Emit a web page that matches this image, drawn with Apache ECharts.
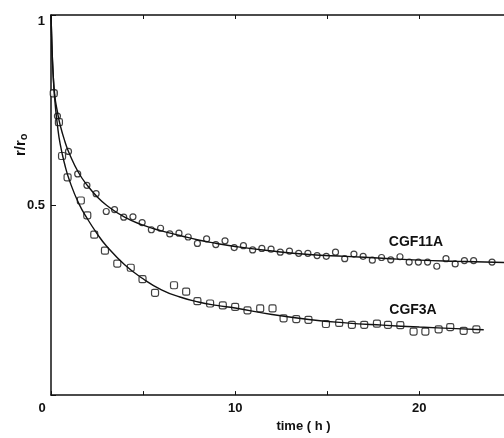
<!DOCTYPE html>
<html lang="en">
<head>
    <meta charset="UTF-8">
    <title>r/r0 vs time</title>
    <script type="text/javascript" src="https://cdn.jsdelivr.net/npm/echarts@6/dist/echarts.min.js"></script>
    <style>
        html, body { margin: 0; padding: 0; background: #fff; }
    </style>
</head>
<body>
<div id="main" style="width: 504px;height:438px;"></div>
<script type="text/javascript">
    // measured points, CGF11A (circles)
    var timeA = [0.15, 0.35, 0.95, 1.45, 1.95, 2.45, 3.0, 3.45, 3.95, 4.45, 4.95, 5.45, 5.95, 6.45, 6.95, 7.45,
        7.95, 8.45, 8.95, 9.45, 9.95, 10.45, 10.95, 11.45, 11.95, 12.45, 12.95, 13.45, 13.95, 14.45, 14.95,
        15.45, 15.95, 16.45, 16.95, 17.45, 17.95, 18.45, 18.95, 19.45, 19.95, 20.45, 20.95, 21.45, 21.95,
        22.45, 22.95, 23.95];
    var ratioA = [0.796, 0.734, 0.641, 0.582, 0.552, 0.53, 0.483, 0.488, 0.468, 0.469, 0.454, 0.435, 0.439,
        0.424, 0.426, 0.416, 0.399, 0.411, 0.396, 0.406, 0.388, 0.393, 0.382, 0.386, 0.384, 0.376, 0.379,
        0.373, 0.373, 0.367, 0.365, 0.376, 0.359, 0.371, 0.365, 0.355, 0.362, 0.356, 0.364, 0.35, 0.35,
        0.35, 0.339, 0.359, 0.345, 0.354, 0.354, 0.35];

    // measured points, CGF3A (squares)
    var timeB = [0.15, 0.43, 0.6, 0.9, 1.62, 1.97, 2.35, 2.93, 3.6, 4.33, 4.97, 5.65, 6.68, 7.34, 7.95, 8.64,
        9.33, 10.0, 10.67, 11.36, 12.03, 12.63, 13.32, 13.98, 14.93, 15.65, 16.34, 17.01, 17.7, 18.3, 18.97,
        19.69, 20.33, 21.05, 21.68, 22.41, 23.1];
    var ratioB = [0.794, 0.718, 0.629, 0.573, 0.512, 0.473, 0.422, 0.38, 0.346, 0.335, 0.305, 0.269, 0.289,
        0.272, 0.247, 0.241, 0.236, 0.232, 0.223, 0.228, 0.228, 0.202, 0.2, 0.198, 0.187, 0.19, 0.185,
        0.185, 0.188, 0.185, 0.184, 0.167, 0.167, 0.173, 0.179, 0.169, 0.173];

    // fitted curves
    var fitTimeA = [0, 0.05, 0.1, 0.2, 0.35, 0.5, 0.75, 1, 1.5, 2, 2.5, 3, 4, 5, 6, 7, 8, 9, 10, 12, 14, 16, 18, 20, 22, 24.6];
    var fitA = [1, 0.92, 0.86, 0.79, 0.745, 0.71, 0.668, 0.635, 0.585, 0.55, 0.522, 0.5, 0.468, 0.447, 0.432,
        0.42, 0.408, 0.399, 0.391, 0.379, 0.37, 0.365, 0.36, 0.355, 0.352, 0.349];
    var fitTimeB = [0, 0.05, 0.1, 0.2, 0.35, 0.5, 0.75, 1, 1.5, 2, 2.5, 3, 4, 5, 6, 7, 8, 9, 10, 12, 14, 16, 18, 20, 22, 23.5];
    var fitB = [1, 0.92, 0.86, 0.78, 0.71, 0.66, 0.606, 0.565, 0.505, 0.462, 0.425, 0.393, 0.343, 0.306, 0.277,
        0.258, 0.245, 0.236, 0.229, 0.212, 0.199, 0.19, 0.184, 0.179, 0.175, 0.172];

    var xTicks = [0, 10, 20];
    var yTicks = [0.5, 1];

    function pairs(xs, ys) {
        var out = [];
        for (var i = 0; i < xs.length; i++) out.push([xs[i], ys[i]]);
        return out;
    }

    var bold = 'bold 13px "Liberation Sans", Arial, sans-serif';
    var myChart = echarts.init(document.getElementById('main'));
    myChart.setOption({
        animation: false,
        grid: { left: 51, top: 15, right: 0, bottom: 41 },
        xAxis: [{
            type: 'value', min: 0, max: 24.6, interval: 5,
            splitLine: { show: false },
            axisLine: { lineStyle: { color: '#111', width: 1.5 } },
            axisTick: { inside: true, length: 4, lineStyle: { color: '#111' } },
            axisLabel: {
                showMaxLabel: false,
                margin: 7,
                fontSize: 13, fontWeight: 'bold', color: '#111', fontFamily: 'Liberation Sans',
                formatter: function (v) {
                    if (v === 0) return '{z|0}';
                    return xTicks.indexOf(v) >= 0 ? String(v) : '';
                },
                rich: { z: { fontSize: 13, fontWeight: 'bold', color: '#111', padding: [0, 18, 0, 0] } }
            },
            name: 'time ( h )',
            nameLocation: 'middle',
            nameGap: 21,
            nameTextStyle: { fontSize: 13, fontWeight: 'bold', color: '#111', fontFamily: 'Liberation Sans',
                padding: [0, 0, 0, 52] }
        }, {
            type: 'value', position: 'top', min: 0, max: 24.6, interval: 5,
            splitLine: { show: false },
            axisLine: { lineStyle: { color: '#111', width: 1.5 } },
            axisTick: { inside: true, length: 4, lineStyle: { color: '#111' } },
            axisLabel: { show: false }
        }],
        yAxis: {
            type: 'value', min: 0, max: 1, interval: 0.5,
            splitLine: { show: false },
            axisLine: { lineStyle: { color: '#111', width: 1.5 } },
            axisTick: { inside: true, length: 5, lineStyle: { color: '#111' } },
            axisLabel: {
                margin: 6,
                fontSize: 13, fontWeight: 'bold', color: '#111', fontFamily: 'Liberation Sans',
                formatter: function (v) {
                    if (v === 1) return '{t|1}';
                    return yTicks.indexOf(v) >= 0 ? String(v) : '';
                },
                rich: { t: { fontSize: 13, fontWeight: 'bold', color: '#111', padding: [12, 0, 0, 0] } }
            }
        },
        graphic: [{
            type: 'text', x: 12, y: 156, rotation: Math.PI / 2,
            style: {
                text: '{a|r/r}{b|o}',
                rich: {
                    a: { font: 'bold 15px "Liberation Sans", sans-serif', fill: '#111' },
                    b: { font: 'bold 11px "Liberation Sans", sans-serif', fill: '#111', padding: [6, 0, 0, 0] }
                }
            }
        }, {
            type: 'text', x: 416, y: 242,
            style: { text: 'CGF11A', font: 'bold 14px "Liberation Sans", sans-serif', fill: '#111',
                align: 'center', verticalAlign: 'middle' }
        }, {
            type: 'text', x: 413, y: 310,
            style: { text: 'CGF3A', font: 'bold 14px "Liberation Sans", sans-serif', fill: '#111',
                align: 'center', verticalAlign: 'middle' }
        }],
        series: [{
            name: 'CGF11A fit', type: 'line', smooth: true, showSymbol: false,
            data: pairs(fitTimeA, fitA),
            lineStyle: { color: '#111', width: 1.4 }
        }, {
            name: 'CGF3A fit', type: 'line', smooth: true, showSymbol: false,
            data: pairs(fitTimeB, fitB),
            lineStyle: { color: '#111', width: 1.4 }
        }, {
            name: 'CGF11A', type: 'scatter', symbol: 'circle', symbolSize: 6,
            data: pairs(timeA, ratioA),
            itemStyle: { color: '#fff', borderColor: '#111', borderWidth: 1.2 }
        }, {
            name: 'CGF3A', type: 'scatter', symbol: 'roundRect', symbolSize: 7,
            data: pairs(timeB, ratioB),
            itemStyle: { color: '#fff', borderColor: '#111', borderWidth: 1.2 }
        }]
    });
</script>
</body>
</html>
